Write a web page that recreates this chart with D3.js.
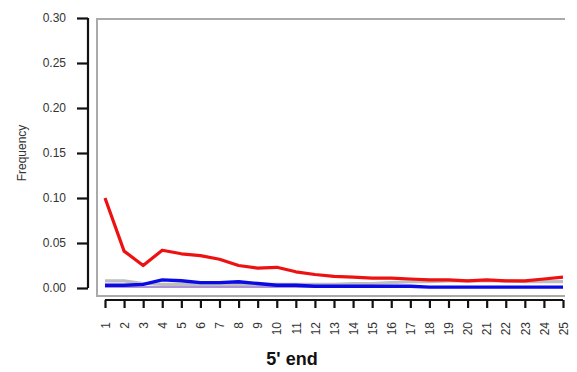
<!DOCTYPE html>
<html>
<head>
<script src="https://d3js.org/d3.v7.min.js"></script>
<style>
body { margin: 0; background: #fff; }
text { font-family: "Liberation Sans", Arial, sans-serif; }
</style>
</head>
<body>
<div id="chart"></div>
<script>
var positions = d3.range(1, 26);
var yTicks = [0, 0.05, 0.10, 0.15, 0.20, 0.25, 0.30];

var redValues = [0.100, 0.041, 0.025, 0.042, 0.038, 0.036, 0.032, 0.025, 0.022, 0.023, 0.018, 0.015, 0.013, 0.012, 0.011, 0.011, 0.010, 0.009, 0.009, 0.008, 0.009, 0.008, 0.008, 0.010, 0.012];
var blueValues = [0.003, 0.003, 0.004, 0.009, 0.008, 0.006, 0.006, 0.007, 0.005, 0.003, 0.003, 0.002, 0.002, 0.002, 0.002, 0.002, 0.002, 0.001, 0.001, 0.001, 0.001, 0.001, 0.001, 0.001, 0.001];
var grayValues = [0.008, 0.008, 0.005, 0.004, 0.004, 0.004, 0.004, 0.004, 0.004, 0.004, 0.004, 0.004, 0.004, 0.005, 0.005, 0.006, 0.007, 0.007, 0.008, 0.008, 0.008, 0.008, 0.007, 0.007, 0.007];
var purpleValues = [0.001, 0.001, 0.001, 0.001, 0.001, 0.001, 0.001, 0.001, 0.001, 0.001, 0.001, 0.001, 0.001, 0.001, 0.001, 0.001, 0.001, 0.001, 0.001, 0.001, 0.001, 0.001, 0.001, 0.001, 0.001];

var width = 577, height = 372;

var svg = d3.select("#chart").append("svg")
  .attr("width", width)
  .attr("height", height);

var x = d3.scaleLinear().domain([1, 25]).range([105, 563]);
var y = d3.scaleLinear().domain([0, 0.30]).range([288, 18]);

// plot box: top, left and bottom edges only
svg.append("path")
  .attr("d", "M565,19H97V296H565")
  .attr("fill", "none")
  .attr("stroke", "#aaa")
  .attr("stroke-width", 2);

var line = d3.line()
  .x(function(d, i) { return x(positions[i]); })
  .y(function(d) { return y(d); });

var series = [
  { values: grayValues, color: "#bdbdbd", w: 3.2 },
  { values: purpleValues, color: "#9070c8", w: 1.5 },
  { values: blueValues, color: "#0a0ae6", w: 3.4 },
  { values: redValues, color: "#ee1111", w: 3.2 }
];

series.forEach(function(s) {
  svg.append("path")
    .datum(s.values)
    .attr("d", line)
    .attr("fill", "none")
    .attr("stroke", s.color)
    .attr("stroke-width", s.w)
    .attr("stroke-linejoin", "round");
});

// y axis
var yAxis = svg.append("g")
  .attr("transform", "translate(88,0)")
  .call(d3.axisLeft(y).tickValues(yTicks).tickFormat(d3.format(".2f")).tickSize(11).tickPadding(11));
yAxis.select(".domain").attr("stroke", "#111").attr("stroke-width", 2.2).attr("d", "M0,18V288");
yAxis.selectAll(".tick line").attr("stroke", "#111").attr("stroke-width", 2.2);
yAxis.selectAll(".tick text").attr("font-size", 12).attr("fill", "#333")
  .style("font-family", "Liberation Sans, Arial, sans-serif");

// x axis
var xAxis = svg.append("g")
  .attr("transform", "translate(0,300)")
  .call(d3.axisBottom(x).tickValues(positions).tickFormat(d3.format("d")).tickSize(8).tickSizeOuter(0));
xAxis.select(".domain").attr("stroke", "#111").attr("stroke-width", 2.2).attr("d", "M105,0H563");
xAxis.selectAll(".tick line").attr("stroke", "#111").attr("stroke-width", 2.2);
xAxis.selectAll(".tick text")
  .attr("font-size", 12).attr("fill", "#333")
  .style("font-family", "Liberation Sans, Arial, sans-serif")
  .attr("text-anchor", "end")
  .attr("dy", "0.35em")
  .attr("transform", "translate(0,22) rotate(-90)")
  .attr("x", 0).attr("y", 0);

svg.append("text")
  .attr("transform", "translate(26,153) rotate(-90)")
  .attr("text-anchor", "middle")
  .attr("font-size", 12)
  .attr("fill", "#333")
  .text("Frequency");

svg.append("text")
  .attr("x", 292).attr("y", 365)
  .attr("text-anchor", "middle")
  .attr("font-size", 18)
  .attr("font-weight", "bold")
  .attr("fill", "#111")
  .text("5' end");
</script>
</body>
</html>
